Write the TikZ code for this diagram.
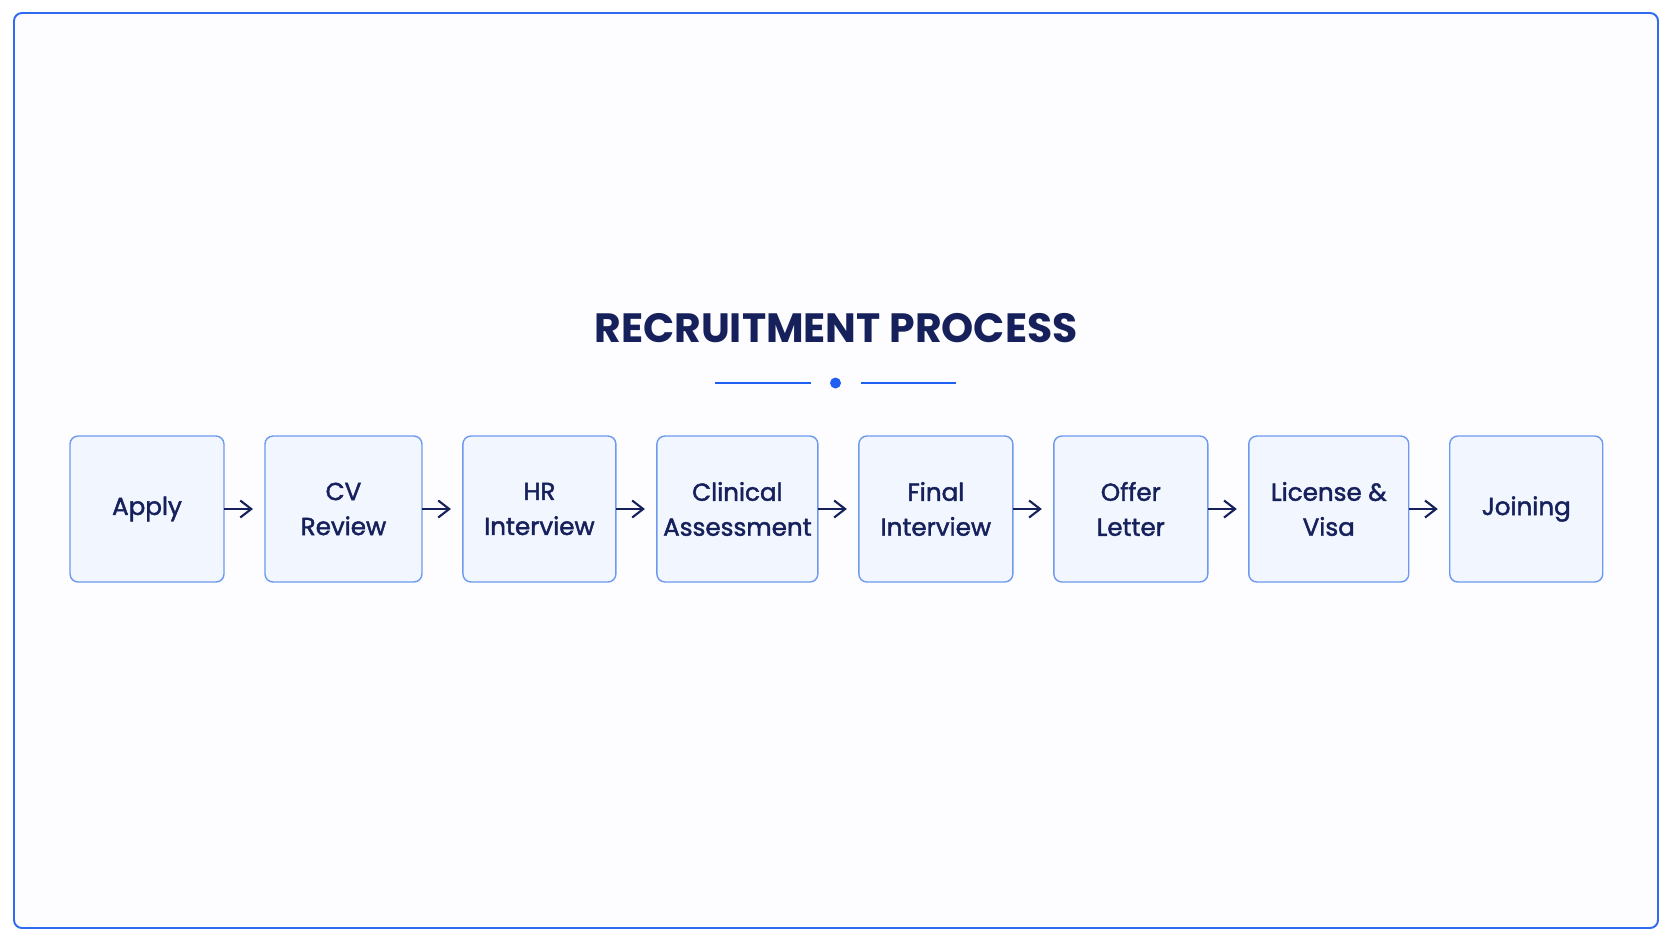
\documentclass[tikz,border=0pt]{standalone}
\usepackage{fontspec}
\setmainfont{Poppins}
\newfontfamily\stagefont[FakeBold=1.8]{Poppins}
\usetikzlibrary{positioning,arrows.meta}

\definecolor{navy}{HTML}{16215C}
\definecolor{frameblue}{HTML}{2E6BF2}
\definecolor{boxline}{HTML}{6D9AF0}
\definecolor{boxfill}{HTML}{F2F6FE}
\definecolor{accent}{HTML}{1F5FF2}

\tikzset{
  stage/.style={draw=boxline, fill=boxfill, line width=0.8pt, rounded corners=0.16cm,
    minimum height=2.92cm, minimum width=3.08cm, align=center, text=navy,
    font=\stagefont\fontsize{14}{19.9}\selectfont, inner sep=0pt, outer sep=0pt},
  flow/.style={draw=navy, line width=1.2pt, -{Straight Barb[length=0.22cm,width=0.34cm]},
    shorten >=0.24cm}
}

\begin{document}
\begin{tikzpicture}[x=0.02cm,y=-0.02cm]
\useasboundingbox[fill=white] (0,0) rectangle (1672,941);

% frame
\draw[frameblue, line width=1.1pt, fill={rgb,255:red,253;green,253;blue,255}, rounded corners=0.16cm]
  (14,13) rectangle (1658,928);

% heading
\node[text=navy, font=\bfseries\fontsize{23.3}{28}\selectfont] (title) at (836,328) {RECRUITMENT PROCESS};
\draw[accent, line width=1.2pt] (715,383) -- (811,383);
\draw[accent, line width=1.2pt] (861,383) -- (956,383);
\fill[accent] (835.5,383) circle (0.11cm);

% stages
\node[stage] (apply) at (147,509) {Apply};
\node[stage, minimum width=3.14cm, right=0.82cm of apply] (cv) {CV\\Review};
\node[stage, minimum width=3.06cm, right=0.82cm of cv] (hr) {HR\\Interview};
\node[stage, minimum width=3.22cm, right=0.82cm of hr] (clinical) {Clinical\\Assessment};
\node[stage, right=0.82cm of clinical] (final) {Final\\Interview};
\node[stage, right=0.82cm of final] (offer) {Offer\\Letter};
\node[stage, minimum width=3.2cm, right=0.82cm of offer] (license) {License \&\\Visa};
\node[stage, minimum width=3.06cm, right=0.82cm of license] (joining) {Joining};

\foreach \a/\b in {apply/cv, cv/hr, hr/clinical, clinical/final, final/offer, offer/license, license/joining}
  \draw[flow] (\a) -- (\b);

\end{tikzpicture}
\end{document}
